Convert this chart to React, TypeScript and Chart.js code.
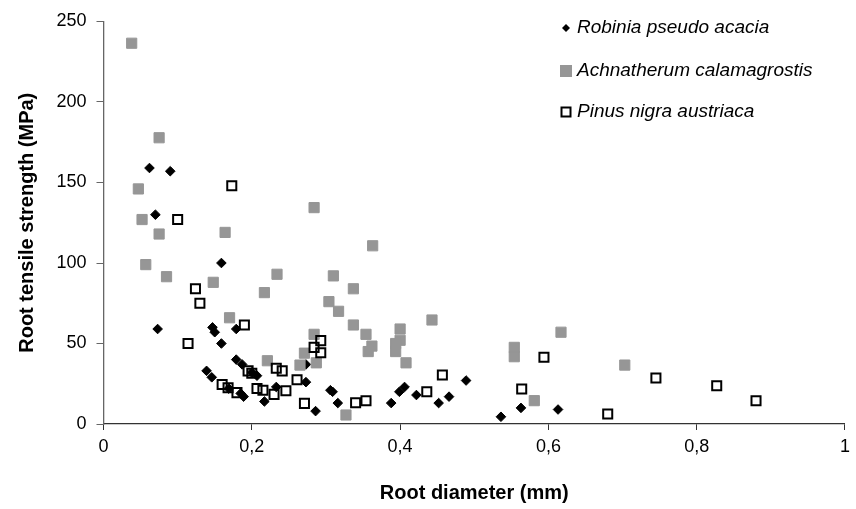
import React, { useEffect, useRef } from "react";
import { Chart, registerables } from "chart.js";

Chart.register(...registerables);

const seriesNames = ["Robinia pseudo acacia", "Achnatherum calamagrostis", "Pinus nigra austriaca"];

const robiniaX = [0.062, 0.090, 0.070, 0.159, 0.073, 0.147, 0.150, 0.159, 0.179, 0.139, 0.146, 0.179, 0.187, 0.200, 0.207, 0.169, 0.185, 0.189, 0.217, 0.233, 0.273, 0.273, 0.286, 0.306, 0.309, 0.316, 0.388, 0.399, 0.406, 0.422, 0.452, 0.466, 0.489, 0.536, 0.563, 0.613];
const robiniaY = [159, 157, 130, 100, 59, 60, 57, 50, 59, 33, 29, 40, 37, 32, 30, 22, 19, 17, 14, 23, 26, 37, 8, 21, 20, 13, 13, 20, 23, 18, 13, 17, 27, 4.5, 10, 9];

const achnX = [0.038, 0.075, 0.047, 0.052, 0.075, 0.164, 0.057, 0.085, 0.148, 0.234, 0.217, 0.170, 0.221, 0.284, 0.363, 0.310, 0.337, 0.304, 0.317, 0.337, 0.354, 0.362, 0.357, 0.284, 0.271, 0.265, 0.287, 0.327, 0.400, 0.400, 0.394, 0.394, 0.408, 0.443, 0.554, 0.554, 0.617, 0.581, 0.703];
const achnY = [236.5, 177.8, 146, 127, 118, 119, 99, 91.5, 88, 93, 81.6, 66, 39.3, 134.4, 110.7, 92, 84, 76, 70, 61.5, 55.7, 48.4, 45, 55.7, 44, 36.6, 38, 5.6, 59, 52, 50, 45, 38, 64.6, 47.6, 41.8, 57, 14.5, 36.6];

const pinusX = [0.173, 0.100, 0.124, 0.130, 0.190, 0.114, 0.195, 0.200, 0.233, 0.241, 0.160, 0.168, 0.180, 0.207, 0.215, 0.230, 0.246, 0.261, 0.271, 0.284, 0.293, 0.293, 0.340, 0.354, 0.436, 0.457, 0.594, 0.564, 0.680, 0.745, 0.827, 0.880];
const pinusY = [148, 127, 84, 75, 61.5, 50, 33, 31.5, 34.6, 33, 24.5, 22.5, 19.5, 22, 21, 18.4, 20.7, 27.5, 12.8, 47.6, 51.8, 44.3, 13.2, 14.5, 20, 30.4, 41.4, 21.7, 6.2, 28.6, 23.8, 14.5];

const xTitle = "Root diameter (mm)";
const yTitle = "Root tensile strength (MPa)";

const FONT = "'Liberation Sans', Arial, sans-serif";
const GRAY = "#969696";

const toPoints = (xs: number[], ys: number[]) => xs.map((x, i) => ({ x, y: ys[i] }));

const legendPlugin = {
  id: "customLegend",
  afterDraw(chart: any) {
    const ctx = chart.ctx;
    const rows = [28, 71, 112];
    const mx = 566;
    const tx = 577;
    ctx.save();
    ctx.font = `italic 19px ${FONT}`;
    ctx.textBaseline = "middle";
    ctx.textAlign = "left";
    ctx.fillStyle = "#000";
    seriesNames.forEach((name, i) => {
      const y = rows[i];
      if (i === 0) {
        ctx.fillStyle = "#000";
        ctx.beginPath();
        ctx.moveTo(mx, y - 4);
        ctx.lineTo(mx + 4, y);
        ctx.lineTo(mx, y + 4);
        ctx.lineTo(mx - 4, y);
        ctx.closePath();
        ctx.fill();
      } else if (i === 1) {
        ctx.fillStyle = GRAY;
        ctx.fillRect(mx - 6, y - 6, 12, 12);
      } else {
        ctx.strokeStyle = "#000";
        ctx.lineWidth = 2;
        ctx.strokeRect(mx - 4.5, y - 4.5, 9, 9);
      }
      ctx.fillStyle = "#000";
      ctx.fillText(name, tx, y);
    });
    ctx.restore();
  },
};

export default function App() {
  const ref = useRef<HTMLCanvasElement | null>(null);

  useEffect(() => {
    const canvas = ref.current;
    if (!canvas) return;
    const fmt = (v: number) => (Math.round(v * 10) / 10).toString().replace(".", ",");
    const chart = new Chart(canvas, {
      type: "scatter",
      data: {
        datasets: [
          {
            label: seriesNames[0],
            data: toPoints(robiniaX, robiniaY),
            pointStyle: "rectRot",
            pointRadius: 4.8,
            backgroundColor: "#000",
            borderColor: "#000",
            borderWidth: 1,
            order: 3,
          },
          {
            label: seriesNames[1],
            data: toPoints(achnX, achnY),
            pointStyle: "rect",
            pointRadius: 7.2,
            backgroundColor: GRAY,
            borderColor: GRAY,
            borderWidth: 1,
            order: 2,
          },
          {
            label: seriesNames[2],
            data: toPoints(pinusX, pinusY),
            pointStyle: "rect",
            pointRadius: 6.4,
            backgroundColor: "rgba(0,0,0,0)",
            borderColor: "#000",
            borderWidth: 2,
            order: 1,
          },
        ],
      },
      options: {
        animation: false,
        responsive: false,
        devicePixelRatio: 1,
        events: [],
        layout: { padding: { left: 0, right: 3.5, top: 21.5, bottom: 0 } },
        plugins: {
          legend: { display: false },
          tooltip: { enabled: false },
        },
        scales: {
          x: {
            type: "linear",
            min: 0,
            max: 1,
            afterFit: (s: any) => {
              s.height = 85;
            },
            border: { display: true, color: "#333", width: 1.3 },
            grid: { display: true, drawOnChartArea: false, drawTicks: true, tickLength: 6, color: "#333" },
            ticks: {
              stepSize: 0.2,
              padding: 6,
              color: "#000",
              font: { family: FONT, size: 18 },
              callback: (v: any) => fmt(Number(v)),
              maxRotation: 0,
            },
            title: {
              display: true,
              text: xTitle,
              color: "#000",
              font: { family: FONT, size: 20, weight: "bold", lineHeight: 1.2 },
              padding: { top: 0, bottom: 4 },
            },
          },
          y: {
            type: "linear",
            min: 0,
            max: 250,
            afterFit: (s: any) => {
              s.width = 103.5;
            },
            border: { display: true, color: "#666", width: 1.3 },
            grid: { display: true, drawOnChartArea: false, drawTicks: true, tickLength: 7, color: "#666" },
            ticks: {
              stepSize: 50,
              padding: 10,
              color: "#000",
              font: { family: FONT, size: 18 },
            },
            title: {
              display: true,
              text: yTitle,
              color: "#000",
              font: { family: FONT, size: 20, weight: "bold", lineHeight: 1.2 },
              padding: { top: 15, bottom: 0 },
            },
          },
        },
      },
      plugins: [legendPlugin],
    });
    return () => chart.destroy();
  }, []);

  return (
    <div style={{ position: "absolute", left: 0, top: 0, width: 856, height: 509, background: "#fff" }}>
      <canvas ref={ref} width={856} height={509} style={{ width: 856, height: 509, display: "block" }} />
    </div>
  );
}
